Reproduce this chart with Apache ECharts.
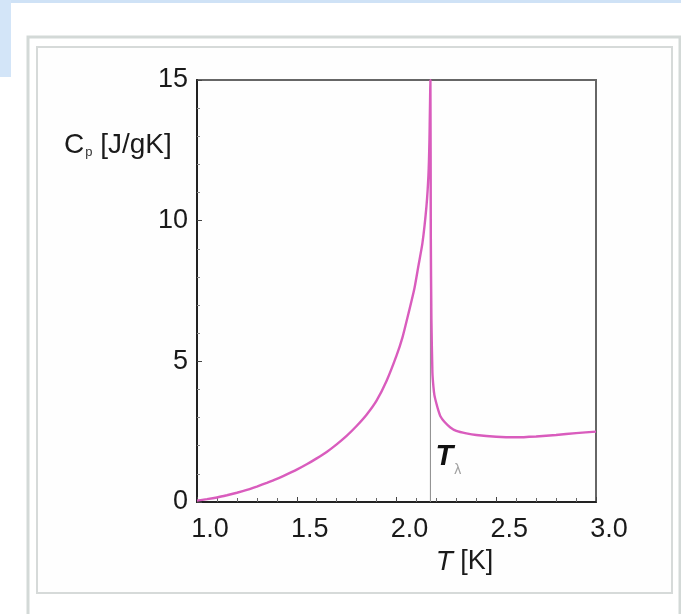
<!DOCTYPE html>
<html>
<head>
<meta charset="utf-8">
<script src="https://cdn.jsdelivr.net/npm/echarts@6/dist/echarts.min.js"></script>
<style>
html,body{margin:0;padding:0;background:#fff;}
#c{width:681px;height:614px;}
</style>
</head>
<body>
<div id="c"></div>
<script>
// Temperature T [K]
const temps = [1.00, 1.05, 1.10, 1.15, 1.20, 1.25, 1.30, 1.35, 1.40, 1.45, 1.50, 1.55, 1.60, 1.65, 1.70, 1.75, 1.80, 1.85, 1.90, 1.95, 2.00, 2.03, 2.06, 2.09, 2.11, 2.13, 2.15, 2.16, 2.165, 2.17, 2.172, 2.175, 2.18, 2.185, 2.19, 2.20, 2.21, 2.22, 2.24, 2.27, 2.30, 2.35, 2.40, 2.50, 2.60, 2.70, 2.80, 2.90, 3.00];
// Specific heat Cp [J/gK]
const cpValues = [0.05, 0.10, 0.16, 0.24, 0.33, 0.43, 0.55, 0.68, 0.82, 0.98, 1.15, 1.34, 1.55, 1.78, 2.05, 2.35, 2.70, 3.10, 3.60, 4.30, 5.20, 5.85, 6.70, 7.60, 8.40, 9.20, 10.5, 11.6, 12.8, 15.0, 9.5, 6.5, 4.6, 4.1, 3.8, 3.5, 3.25, 3.05, 2.85, 2.65, 2.53, 2.44, 2.38, 2.32, 2.30, 2.33, 2.38, 2.45, 2.50];
const lambdaT = 2.17;
const xMin = 1.0, xMax = 3.0, xStep = 0.5;
const yMin = 0, yMax = 15, yStep = 5;

const curve = temps.map((t, i) => [t, cpValues[i]]);
const lambdaLine = [[lambdaT, yMin], [lambdaT, yMax]];

const chart = echarts.init(document.getElementById('c'), null, {renderer: 'canvas'});
const font = '"Liberation Sans", Arial, sans-serif';

chart.setOption({
  animation: false,
  backgroundColor: '#ffffff',
  textStyle: {fontFamily: font},
  graphic: [
    {type: 'rect', z: -10, shape: {x: 0, y: 0, width: 681, height: 3}, style: {fill: '#cfe2f6'}},
    {type: 'rect', z: -10, shape: {x: 0, y: 0, width: 11, height: 77}, style: {fill: '#d3e5f8'}},
    {type: 'rect', z: -9, shape: {x: 28, y: 37, width: 652, height: 600}, style: {fill: 'none', stroke: '#d3d9d7', lineWidth: 3}},
    {type: 'rect', z: -9, shape: {x: 37, y: 47, width: 635, height: 546}, style: {fill: '#fefefe', stroke: '#d6dad9', lineWidth: 2}},
    {type: 'text', z: 10, left: 64, top: 131, style: {
      text: '{c|C}{s|p}{n| [J/gK]}',
      rich: {
        c: {fontSize: 28, fontFamily: font, fill: '#1a1a1a'},
        s: {fontSize: 13, fontFamily: font, fill: '#333', padding: [14, 0, 0, 1]},
        n: {fontSize: 28, fontFamily: font, fill: '#1a1a1a'}
      }
    }}
  ],
  grid: {left: 197, right: 85, top: 80, bottom: 112, show: true, borderColor: '#666', borderWidth: 2, backgroundColor: 'transparent'},
  xAxis: {
    type: 'value', min: xMin, max: xMax, interval: xStep,
    axisLine: {show: true, lineStyle: {color: '#222', width: 2}},
    axisTick: {show: true, inside: true, length: 5, lineStyle: {color: '#444'}},
    minorTick: {show: true, splitNumber: 5, length: 4, lineStyle: {color: '#666'}},
    splitLine: {show: false},
    axisLabel: {fontSize: 27, color: '#1a1a1a', margin: 14, padding: [0, 0, 0, 26], formatter: v => v.toFixed(1)},
    name: '{i|T}{n| [K]}', nameLocation: 'middle', nameGap: 46,
    nameTextStyle: {padding: [0, 0, 0, 136], rich: {
      i: {fontSize: 28, fontStyle: 'italic', fontFamily: font, color: '#1a1a1a'},
      n: {fontSize: 27, fontFamily: font, color: '#1a1a1a'}
    }}
  },
  yAxis: {
    type: 'value', min: yMin, max: yMax, interval: yStep,
    axisLine: {show: true, lineStyle: {color: '#222', width: 2}},
    axisTick: {show: true, inside: true, length: 5, lineStyle: {color: '#444'}},
    minorTick: {show: true, splitNumber: 5, length: 3, lineStyle: {color: '#888'}},
    splitLine: {show: false},
    axisLabel: {fontSize: 27, color: '#1a1a1a', margin: 9, padding: [18, 0, 0, 0]}
  },
  series: [
    {
      type: 'line', data: lambdaLine, symbol: 'none', silent: true,
      lineStyle: {color: '#8a8a8a', width: 1}, z: 1,
      markPoint: {
        symbol: 'circle', symbolSize: 0,
        data: [{coord: [lambdaT, 1.6]}],
        label: {show: true, position: 'right', distance: 5, formatter: '{t|T}{s|λ}',
          rich: {
            t: {fontSize: 29, fontStyle: 'italic', fontWeight: 'bold', fontFamily: font, color: '#111'},
            s: {fontSize: 14, fontFamily: font, color: '#a0a0a0', padding: [26, 0, 0, 1]}
          }}
      }
    },
    {
      type: 'line', data: curve, symbol: 'none', smooth: 0.2,
      lineStyle: {color: '#d95cbd', width: 2.4}, z: 3
    }
  ]
});
</script>
</body>
</html>
